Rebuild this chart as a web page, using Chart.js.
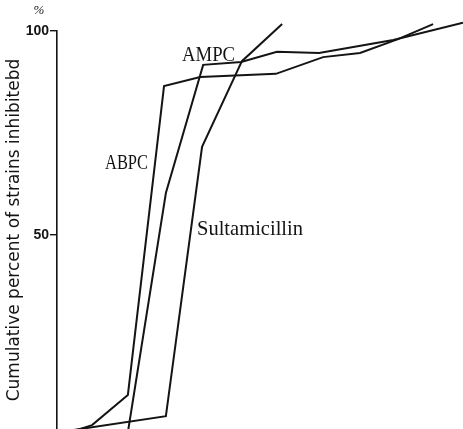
<!DOCTYPE html>
<html>
<head>
<meta charset="utf-8">
<script src="https://cdn.jsdelivr.net/npm/chart.js@4/dist/chart.umd.min.js"></script>
<style>
  html, body { margin: 0; padding: 0; background: #fff; }
  #c { display: block; }
</style>
</head>
<body>
<canvas id="c" width="463" height="429"></canvas>
<script>
// ---- data (x = dilution step index, y = cumulative % of strains inhibited) ----
const seriesNames = ['ABPC', 'AMPC', 'Sultamicillin'];

const abpcX = [0.30, 0.95, 1.92, 2.90, 3.88, 5.93, 7.21, 8.21, 9.24, 10.19];
const abpcY = [1.5, 3.4, 10.8, 86.5, 88.7, 89.5, 93.6, 94.6, 98.0, 101.7];

const ampcX = [0.35, 1.90, 2.95, 3.96, 4.99, 5.96, 7.10, 9.11, 11.0];
const ampcY = [0.0, 0.5, 60.3, 91.7, 92.4, 94.9, 94.6, 97.8, 102.0];

const sultX = [0.30, 2.95, 3.93, 5.01, 6.10];
const sultY = [2.0, 5.6, 71.6, 92.6, 101.7];

const yTickValues = [50, 100];
const yTitle = 'Cumulative percent of strains inhibitebd';
const unitLabel = '%';

function pts(xs, ys) { return xs.map((x, i) => ({ x: x, y: ys[i] })); }

const lineStyle = {
  borderColor: '#141414',
  borderWidth: 2,
  pointRadius: 0,
  tension: 0,
  fill: false,
  clip: false
};

// ---- text labels drawn next to the curves ----
const labelPlugin = {
  id: 'curveLabels',
  afterDatasetsDraw(chart) {
    const ctx = chart.ctx;
    const items = [
      { text: seriesNames[1], x: 182, y: 61, w: 53 },
      { text: seriesNames[0], x: 105, y: 169, w: 43 },
      { text: seriesNames[2], x: 197, y: 235, w: 106 }
    ];
    ctx.save();
    ctx.fillStyle = '#141414';
    ctx.textBaseline = 'alphabetic';
    ctx.textAlign = 'left';
    ctx.font = '22px "Liberation Serif", "DejaVu Serif", serif';
    items.forEach(it => {
      const m = ctx.measureText(it.text).width;
      const s = it.w / m;
      ctx.save();
      ctx.translate(it.x, it.y);
      ctx.scale(s, 1);
      ctx.fillText(it.text, 0, 0);
      ctx.restore();
    });
    // unit mark above the axis
    ctx.font = 'italic 13px "Liberation Serif", serif';
    ctx.textAlign = 'center';
    ctx.textBaseline = 'middle';
    ctx.fillText(unitLabel, 39, 11);
    ctx.restore();
  }
};

new Chart(document.getElementById('c'), {
  type: 'line',
  data: {
    datasets: [
      Object.assign({ label: seriesNames[0], data: pts(abpcX, abpcY) }, lineStyle),
      Object.assign({ label: seriesNames[1], data: pts(ampcX, ampcY) }, lineStyle),
      Object.assign({ label: seriesNames[2], data: pts(sultX, sultY) }, lineStyle)
    ]
  },
  options: {
    responsive: false,
    animation: false,
    layout: { padding: { top: 31, left: 0, right: 0, bottom: 0 } },
    plugins: {
      legend: { display: false },
      tooltip: { enabled: false }
    },
    scales: {
      x: { type: 'linear', min: 0, max: 11, display: false },
      y: {
        type: 'linear',
        min: 2.45,
        max: 100,
        afterBuildTicks: s => { s.ticks = yTickValues.map(v => ({ value: v })); },
        afterFit: s => { s.width = 57; s.paddingTop = 0; s.paddingBottom = 0; },
        grid: { drawOnChartArea: false, drawTicks: true, tickLength: 7, color: '#141414', lineWidth: 1.4 },
        border: { display: true, color: '#141414', width: 1.6 },
        ticks: {
          color: '#141414',
          padding: 1,
          font: { family: '"Liberation Sans", sans-serif', size: 14, weight: 'bold' }
        },
        title: {
          display: true,
          text: yTitle,
          color: '#141414',
          font: { family: '"DejaVu Sans", sans-serif', size: 17 },
          padding: { top: 4, bottom: 0 }
        }
      }
    }
  },
  plugins: [labelPlugin]
});
</script>
</body>
</html>
